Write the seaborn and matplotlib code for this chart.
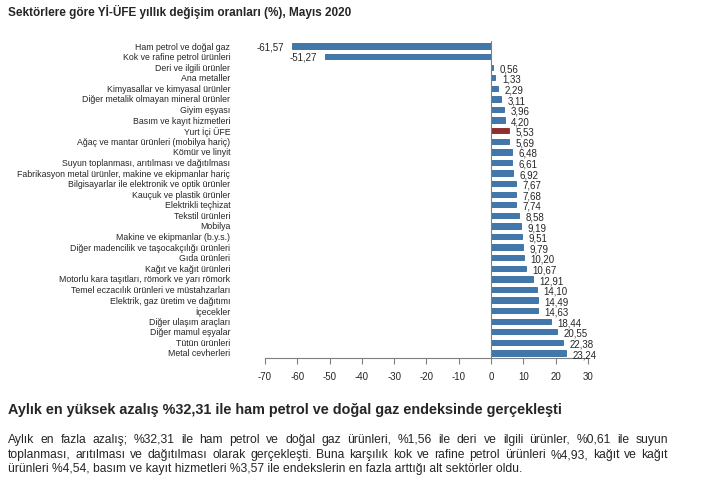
import matplotlib
matplotlib.use("Agg")
import matplotlib.pyplot as plt
import seaborn as sns
import pandas as pd

# sektörler (yukarıdan aşağıya) ve yıllık değişim oranları
sektorler = [
    "Ham petrol ve doğal gaz",
    "Kok ve rafine petrol ürünleri",
    "Deri ve ilgili ürünler",
    "Ana metaller",
    "Kimyasallar ve kimyasal ürünler",
    "Diğer metalik olmayan mineral ürünler",
    "Giyim eşyası",
    "Basım ve kayıt hizmetleri",
    "Yurt İçi ÜFE",
    "Ağaç ve mantar ürünleri (mobilya hariç)",
    "Kömür ve linyit",
    "Suyun toplanması, arıtılması ve dağıtılması",
    "Fabrikasyon metal ürünler, makine ve ekipmanlar hariç",
    "Bilgisayarlar ile elektronik ve optik ürünler",
    "Kauçuk ve plastik ürünler",
    "Elektrikli teçhizat",
    "Tekstil ürünleri",
    "Mobilya",
    "Makine ve ekipmanlar (b.y.s.)",
    "Diğer madencilik ve taşocakçılığı ürünleri",
    "Gıda ürünleri",
    "Kağıt ve kağıt ürünleri",
    "Motorlu kara taşıtları, römork ve yarı römork",
    "Temel eczacılık ürünleri ve müstahzarları",
    "Elektrik, gaz üretim ve dağıtımı",
    "İçecekler",
    "Diğer ulaşım araçları",
    "Diğer mamul eşyalar",
    "Tütün ürünleri",
    "Metal cevherleri",
]
degisim = [-61.57, -51.27, 0.56, 1.33, 2.29, 3.11, 3.96, 4.20, 5.53, 5.69,
           6.48, 6.61, 6.92, 7.67, 7.68, 7.74, 8.58, 9.19, 9.51, 9.79,
           10.20, 10.67, 12.91, 14.10, 14.49, 14.63, 18.44, 20.55, 22.38, 23.24]
x_ticks = [-70, -60, -50, -40, -30, -20, -10, 0, 10, 20, 30]

baslik = "Sektörlere göre Yİ-ÜFE yıllık değişim oranları (%), Mayıs 2020"
alt_baslik = "Aylık en yüksek azalış %32,31 ile ham petrol ve doğal gaz endeksinde gerçekleşti"
paragraf = [
    "Aylık en fazla azalış; %32,31 ile ham petrol ve doğal gaz ürünleri, %1,56 ile deri ve ilgili ürünler, %0,61 ile suyun",
    "toplanması, arıtılması ve dağıtılması olarak gerçekleşti. Buna karşılık kok ve rafine petrol ürünleri %4,93, kağıt ve kağıt",
    "ürünleri %4,54, basım ve kayıt hizmetleri %3,57 ile endekslerin en fazla arttığı alt sektörler oldu.",
]

df = pd.DataFrame({"sektor": sektorler, "deger": degisim})
MAVI, KIRMIZI = "#2f77bd", "#a31c1c"
renkler = [KIRMIZI if s == "Yurt İçi ÜFE" else MAVI for s in sektorler]

sns.set_style("white")
plt.rcParams["font.family"] = ["Liberation Sans", "DejaVu Sans"]

fig = plt.figure(figsize=(7.11, 4.83), dpi=100)
ax = fig.add_axes([0.3727, 0.2582, 0.4543, 0.6575])

sns.barplot(data=df, x="deger", y="sektor", hue="sektor", palette=renkler,
            legend=False, orient="h", width=0.5, ax=ax,
            edgecolor="#1f5a93", linewidth=0.5)
for p, c in zip(ax.patches, renkler):
    if c == KIRMIZI:
        p.set_edgecolor("#701010")

ax.set_xlim(-70, 30)
ax.set_ylim(29.5, -0.5)
ax.set_xticks(x_ticks)
ax.set_xticklabels([str(t) for t in x_ticks], fontsize=7)
ax.set_xlabel("")
ax.set_ylabel("")
ax.tick_params(axis="x", direction="out", length=4, width=0.8, color="#7f7f7f", pad=6, bottom=True)
ax.tick_params(axis="y", length=0, pad=25, labelsize=6.3)

for s in ["top", "right", "left"]:
    ax.spines[s].set_visible(False)
ax.spines["bottom"].set_color("#7f7f7f")
ax.spines["bottom"].set_linewidth(0.8)
ax.axvline(0, color="#7f7f7f", lw=0.8)

for i, v in enumerate(degisim):
    etiket = f"{v:.2f}".replace(".", ",")
    if v < 0:
        ax.text(v - 2.5, i + 0.1, etiket, ha="right", va="center", fontsize=7)
    else:
        ax.text(v + 2.0, i + 0.2, etiket, ha="left", va="center", fontsize=7)

fig.text(8 / 711, 1 - 12 / 483, baslik, fontsize=8.5, fontweight="bold", va="center", ha="left")
fig.text(8 / 711, 1 - 410 / 483, alt_baslik, fontsize=10.4, fontweight="bold", va="center", ha="left")

# paragraf: ilk iki satır iki yana yaslı
renderer = fig.canvas.get_renderer()
sol, sag = 8, 668
satir_y = [443, 458, 472]  # taban çizgileri
for k, satir in enumerate(paragraf):
    y = 1 - satir_y[k] / 483
    if k == len(paragraf) - 1:
        fig.text(sol / 711, y, satir, fontsize=8.75, va="baseline", ha="left")
        continue
    kelimeler = satir.split(" ")
    parcalar = [fig.text(0, y, w, fontsize=8.75, va="baseline", ha="left") for w in kelimeler]
    genislik = [t.get_window_extent(renderer).width for t in parcalar]
    bosluk = (sag - sol - sum(genislik)) / (len(kelimeler) - 1)
    x = sol
    for t, w in zip(parcalar, genislik):
        t.set_x(x / 711)
        x += w + bosluk

fig.savefig("out.png", dpi=100)
